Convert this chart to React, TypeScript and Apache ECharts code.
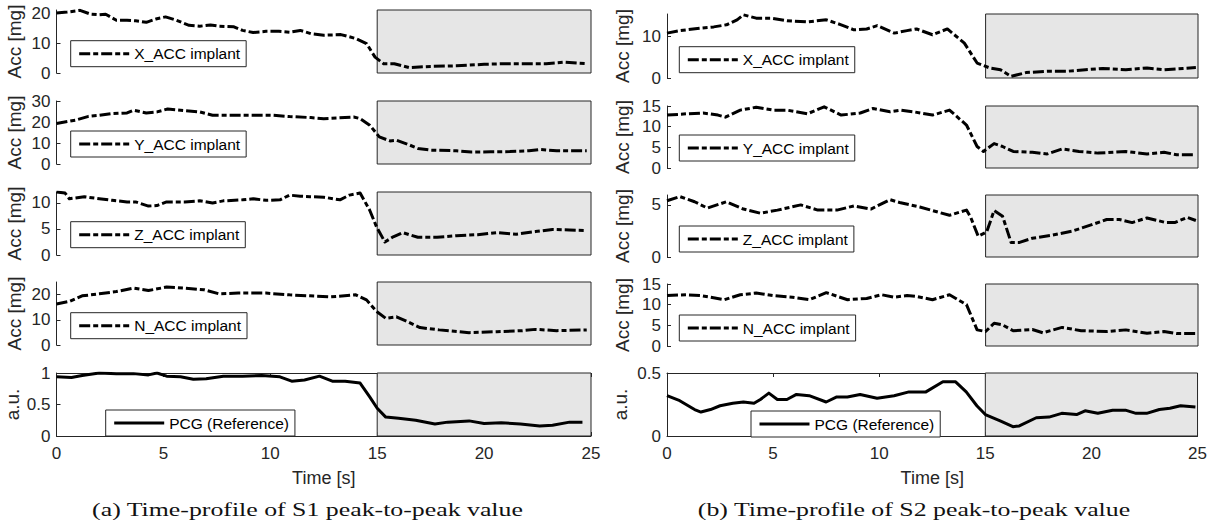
import React, { useEffect, useRef } from "react";
import * as echarts from "echarts";

type Pt = [number, number];

// ---- data (time [s], value) ----
const timeTicks = [0, 5, 10, 15, 20, 25];
const shadeStart = 15;
const shadeEnd = 25;

const s1X: Pt[] = [[0,20.0],[0.5,20.3],[1.1,20.9],[1.6,19.6],[2.0,19.4],[2.3,19.6],[2.8,17.6],[3.3,17.6],[3.7,17.4],[4.2,16.9],[4.7,18.1],[5.1,18.7],[5.6,17.6],[6.2,15.9],[6.7,15.6],[7.2,16.0],[7.6,15.6],[8.3,15.4],[8.7,14.2],[9.2,13.5],[9.8,13.9],[10.4,13.9],[10.9,13.6],[11.4,14.2],[11.9,13.1],[12.5,12.6],[13.3,12.8],[14.0,11.5],[14.5,9.8],[14.9,5.3],[15.3,3.1],[15.8,3.1],[16.5,1.8],[17.5,2.2],[18.7,2.4],[20.0,2.9],[21.0,3.1],[22.1,3.1],[22.9,3.1],[23.7,3.6],[24.8,3.1]];
const s1Y: Pt[] = [[0,19.3],[0.9,20.9],[1.5,22.7],[2.0,23.2],[2.6,24.0],[3.3,24.3],[3.6,25.6],[4.2,24.3],[4.7,24.8],[5.2,26.2],[5.8,25.6],[6.7,24.8],[7.3,23.2],[8.3,23.2],[9.2,23.2],[10.1,23.2],[10.9,22.6],[11.9,22.1],[12.5,21.6],[13.1,21.9],[13.9,22.4],[14.2,21.6],[14.65,18.5],[15.1,12.9],[15.6,11.0],[15.9,11.3],[16.4,9.5],[16.9,7.4],[17.5,6.6],[18.7,6.3],[19.4,5.7],[20.3,5.8],[21.2,5.9],[22.1,6.3],[22.6,6.9],[23.4,6.3],[24.8,6.3]];
const s1Z: Pt[] = [[0,12.1],[0.4,11.9],[0.6,10.8],[1.3,11.2],[2.0,10.8],[2.6,10.5],[3.3,10.2],[3.7,10.2],[4.3,9.4],[4.7,9.5],[5.15,10.2],[6.0,10.2],[6.7,10.4],[7.3,10.0],[7.8,10.4],[8.7,10.6],[9.2,10.8],[9.8,10.5],[10.45,10.6],[10.9,11.5],[11.4,11.3],[11.85,11.2],[12.5,11.1],[13.26,10.6],[13.7,11.5],[14.2,11.9],[14.65,8.6],[14.97,5.4],[15.36,2.5],[15.75,3.5],[16.2,4.3],[16.9,3.4],[17.8,3.4],[18.7,3.7],[19.7,3.9],[20.6,4.3],[21.5,4.0],[22.4,4.5],[23.2,4.9],[24.0,4.8],[24.8,4.7]];
const s1N: Pt[] = [[0,16.3],[0.6,17.3],[1.2,19.5],[2.0,20.3],[2.8,21.2],[3.6,22.6],[4.3,21.6],[5.15,23.0],[6.0,22.6],[6.9,21.9],[7.6,20.3],[8.5,20.6],[9.8,20.6],[10.9,19.9],[11.85,19.5],[12.8,19.1],[14.0,19.9],[14.5,17.9],[14.97,13.3],[15.4,10.6],[15.9,11.2],[16.4,9.3],[17.0,6.9],[17.9,6.0],[19.3,4.9],[20.6,5.3],[21.8,5.7],[22.4,6.2],[23.4,5.7],[24.8,6.0]];
const s1P: Pt[] = [[0,0.94],[0.7,0.93],[1.2,0.96],[2.0,1.0],[2.8,0.99],[3.6,0.99],[4.3,0.97],[4.7,1.0],[5.15,0.95],[5.8,0.94],[6.4,0.90],[7.0,0.91],[7.8,0.95],[8.7,0.95],[9.6,0.96],[10.45,0.94],[11.0,0.87],[11.6,0.89],[12.3,0.95],[12.9,0.87],[13.5,0.87],[14.2,0.84],[14.65,0.62],[15.0,0.44],[15.4,0.30],[16.0,0.28],[16.8,0.25],[17.7,0.19],[18.3,0.22],[19.3,0.24],[20.0,0.20],[20.8,0.21],[21.7,0.19],[22.6,0.16],[23.2,0.17],[24.0,0.22],[24.6,0.22]];

const s2X: Pt[] = [[0,10.8],[0.6,11.4],[1.6,12.0],[2.2,12.3],[2.8,12.8],[3.3,14.0],[3.6,15.2],[4.2,14.4],[4.9,14.4],[5.65,13.8],[6.6,13.5],[7.5,14.0],[8.2,12.8],[8.8,11.6],[9.4,11.8],[9.9,12.6],[10.7,10.8],[11.3,11.4],[11.75,11.8],[12.5,10.4],[13.2,11.8],[14.0,8.4],[14.6,3.6],[15.2,2.4],[15.7,2.0],[16.2,0.4],[16.9,1.3],[17.9,1.6],[18.8,1.6],[19.7,2.0],[20.5,2.3],[21.6,2.0],[22.6,2.4],[23.4,2.0],[24.3,2.3],[24.9,2.5]];
const s2Y: Pt[] = [[0,12.8],[0.9,13.1],[1.7,13.3],[2.4,12.8],[2.75,12.3],[3.45,14.0],[4.2,14.7],[5.0,14.0],[5.65,14.0],[6.6,13.1],[7.4,14.8],[8.2,12.8],[9.1,13.3],[9.7,14.4],[10.5,13.6],[11.0,14.0],[11.6,13.6],[12.5,12.8],[13.3,14.0],[14.1,10.4],[14.6,5.2],[14.9,4.0],[15.4,5.9],[15.8,5.2],[16.3,4.0],[17.2,3.8],[17.9,3.4],[18.6,4.6],[19.4,4.0],[20.3,3.6],[21.6,4.0],[22.6,3.4],[23.4,3.8],[24.0,3.2],[24.9,3.2]];
const s2Z: Pt[] = [[0,5.4],[0.6,5.8],[1.3,5.3],[1.9,4.7],[2.8,5.3],[3.6,4.6],[4.4,4.2],[5.2,4.5],[6.3,5.0],[7.1,4.5],[8.0,4.5],[8.8,4.9],[9.6,4.6],[10.5,5.5],[11.0,5.2],[11.9,4.8],[13.3,4.0],[14.1,4.5],[14.3,3.8],[14.65,2.0],[15.05,2.4],[15.4,4.45],[15.8,3.9],[16.2,1.4],[16.6,1.4],[17.2,1.8],[18.15,2.1],[19.1,2.5],[20.0,3.1],[20.7,3.6],[21.3,3.6],[21.9,3.3],[22.6,3.75],[23.5,3.3],[23.9,3.3],[24.5,3.8],[24.9,3.5]];
const s2N: Pt[] = [[0,12.2],[0.9,12.4],[1.6,12.2],[2.7,11.2],[3.45,12.4],[4.2,12.8],[5.0,12.2],[5.9,11.8],[6.7,11.2],[7.5,12.9],[8.5,11.2],[9.4,11.5],[10.1,12.4],[10.7,11.8],[11.3,12.2],[11.75,12.0],[12.5,11.2],[13.3,12.4],[14.1,10.0],[14.6,3.9],[15.0,3.5],[15.4,5.5],[15.8,5.1],[16.3,3.7],[17.2,4.0],[17.7,3.2],[18.6,4.5],[19.5,3.7],[20.7,3.5],[21.6,3.9],[22.6,3.1],[23.4,3.5],[24.0,3.0],[24.9,3.0]];
const s2P: Pt[] = [[0,0.32],[0.6,0.28],[1.3,0.21],[1.6,0.19],[2.05,0.21],[2.5,0.24],[3.1,0.26],[3.6,0.27],[4.1,0.26],[4.4,0.29],[4.8,0.34],[5.2,0.29],[5.65,0.29],[6.1,0.33],[6.7,0.32],[7.5,0.27],[8.0,0.31],[8.5,0.31],[9.1,0.33],[9.9,0.30],[10.7,0.32],[11.4,0.35],[12.2,0.35],[13.0,0.43],[13.6,0.43],[14.1,0.35],[14.6,0.24],[15.0,0.17],[15.7,0.12],[16.3,0.074],[16.6,0.08],[17.4,0.145],[18.0,0.15],[18.6,0.18],[19.3,0.17],[19.7,0.20],[20.3,0.18],[21.0,0.205],[21.6,0.205],[22.1,0.18],[22.6,0.18],[23.2,0.21],[23.7,0.22],[24.2,0.24],[24.9,0.23]];

// y-axis tick labels and extents per panel
const seriesNames = ["X_ACC implant", "Y_ACC implant", "Z_ACC implant", "N_ACC implant", "PCG (Reference)"];
const leftTicks = [[0, 10, 20], [0, 10, 20, 30], [0, 5, 10], [0, 10, 20], [0, 0.5, 1]];
const leftMax = [21, 30, 12.1, 25, 1];
const rightTicks = [[0, 10], [0, 5, 10, 15], [0, 5], [0, 5, 10, 15], [0, 0.5]];
const rightMax = [15.4, 15, 5.95, 15, 0.5];
const leftData = [s1X, s1Y, s1Z, s1N, s1P];
const rightData = [s2X, s2Y, s2Z, s2N, s2P];
const yNames = ["Acc [mg]", "Acc [mg]", "Acc [mg]", "Acc [mg]", "a.u."];
const xName = "Time [s]";
const captions = ["(a) Time-profile of S1 peak-to-peak value", "(b) Time-profile of S2 peak-to-peak value"];

// ---- layout ----
const colLeft = [56.5, 667];
const colWidth = [534.5, 531];
const rowTop = [[10, 101, 192, 282, 373], [14, 106, 195, 284, 373]];
const rowHeight = [[63, 63, 63, 63, 63], [64, 62, 62, 62, 63]];
const legendTop = [[40.7, 131, 221.7, 312.7, 410], [46.7, 135, 226, 315, 411]];
const legendLeft = [[70.7, 70.7, 70.7, 70.7, 105.7], [679.3, 679.3, 679.3, 679.3, 751]];
const yNameGap = [[33, 33, 33, 33, 35], [35.5, 35.5, 35.5, 35.5, 37]];
const captionX = [307.5, 914];

const AXIS = "#262626";
const FONT = '"Liberation Sans", Arial, Helvetica, sans-serif';
const DASH = [11, 3, 5, 3];

function buildOption() {
  const grid: any[] = [];
  const xAxis: any[] = [];
  const yAxis: any[] = [];
  const series: any[] = [];
  const legend: any[] = [];
  let gi = 0;
  for (let c = 0; c < 2; c++) {
    const ticksArr = c === 0 ? leftTicks : rightTicks;
    const maxArr = c === 0 ? leftMax : rightMax;
    const dataArr = c === 0 ? leftData : rightData;
    for (let r = 0; r < 5; r++) {
      const isPcg = r === 4;
      const ticks = ticksArr[r];
      grid.push({ left: colLeft[c], top: rowTop[c][r], width: colWidth[c], height: rowHeight[c][r] });
      const xi = xAxis.length;
      xAxis.push({
        gridIndex: gi, type: "value", min: 0, max: 25, interval: 5,
        show: isPcg,
        axisLine: { show: true, onZero: false, lineStyle: { color: AXIS, width: 1 } },
        axisTick: { show: true, inside: true, length: 4, lineStyle: { color: AXIS } },
        axisLabel: { show: true, fontSize: 17, color: AXIS, fontFamily: FONT, margin: 9,
          customValues: timeTicks },
        splitLine: { show: false },
        name: isPcg ? xName : "", nameLocation: "middle", nameGap: 33,
        nameTextStyle: { fontSize: 18, color: AXIS, fontFamily: FONT },
      });
      if (isPcg) {
        xAxis.push({
          gridIndex: gi, type: "value", min: 0, max: 25, interval: 5, position: "top",
          axisLine: { show: true, onZero: false, lineStyle: { color: AXIS, width: 1 } },
          axisTick: { show: true, inside: true, length: 4, lineStyle: { color: AXIS } },
          axisLabel: { show: false }, splitLine: { show: false },
        });
      }
      const step = ticks[1] - ticks[0];
      yAxis.push({
        gridIndex: gi, type: "value", min: 0, max: maxArr[r], interval: step,
        axisLine: { show: true, onZero: false, lineStyle: { color: AXIS, width: 1 } },
        axisTick: { show: true, inside: true, length: 4, lineStyle: { color: AXIS }, customValues: ticks },
        axisLabel: {
          show: true, fontSize: 17, color: AXIS, fontFamily: FONT, margin: 6, customValues: ticks,
          formatter: (v: number) => (ticks.some((t) => Math.abs(t - v) < 1e-9) ? String(v) : ""),
        },
        splitLine: { show: false },
        name: yNames[r], nameLocation: "middle", nameGap: yNameGap[c][r],
        nameTextStyle: { fontSize: 19, color: AXIS, fontFamily: FONT },
      });
      series.push({
        name: "band" + gi, type: "line", xAxisIndex: xi, yAxisIndex: gi, data: [], z: 1,
        silent: true,
        markArea: {
          silent: true,
          itemStyle: { color: "#e6e6e6", borderColor: AXIS, borderWidth: 1 },
          data: [[{ xAxis: shadeStart }, { xAxis: shadeEnd }]],
        },
      });
      series.push({
        name: seriesNames[r], type: "line", xAxisIndex: xi, yAxisIndex: gi, data: dataArr[r],
        z: 3, showSymbol: false, symbol: "none", smooth: false, clip: true,
        lineStyle: { color: "#000", width: 3, type: isPcg ? "solid" : DASH, cap: "butt", join: "round" },
      });
      legend.push({
        data: [seriesNames[r]], left: legendLeft[c][r], top: legendTop[c][r],
        backgroundColor: "#fff", borderColor: AXIS, borderWidth: 1, borderRadius: 0,
        padding: [5, 6, 5, 7], itemWidth: 50, itemHeight: 14, itemGap: 0, selectedMode: false,
        lineStyle: { color: "#000", width: 3, type: isPcg ? "solid" : DASH, cap: "butt" },
        itemStyle: { color: "#000", opacity: 0 },
        textStyle: { fontSize: 15.5, color: "#000", fontFamily: FONT },
      });
      gi++;
    }
  }
  const graphic = captions.map((t, i) => ({
    type: "text", x: captionX[i], y: 510, scaleX: 1.36, silent: true,
    style: { text: t, font: '19px "Liberation Serif", "Times New Roman", serif', fill: "#111",
      textAlign: "center", textVerticalAlign: "middle" },
  }));
  return { animation: false, grid, xAxis, yAxis, series, legend, graphic, backgroundColor: "#fff" };
}

export default function App() {
  const ref = useRef<HTMLDivElement>(null);
  useEffect(() => {
    if (!ref.current) return;
    const chart = echarts.init(ref.current, undefined, { renderer: "svg" });
    chart.setOption(buildOption() as any);
    return () => chart.dispose();
  }, []);
  return <div ref={ref} style={{ position: "fixed", left: 0, top: 0, width: 1210, height: 529 }} />;
}
